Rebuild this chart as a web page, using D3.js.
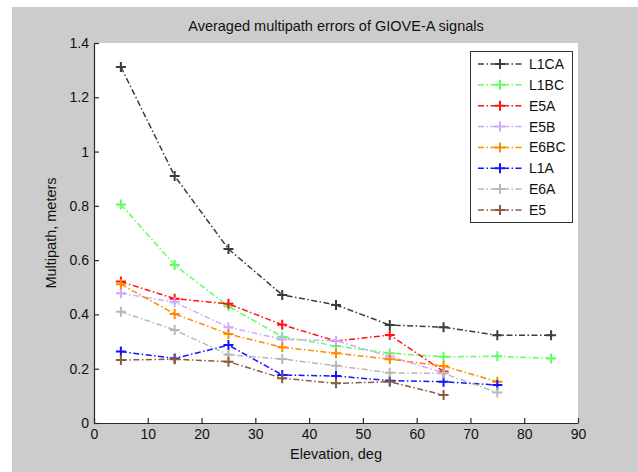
<!DOCTYPE html>
<html><head><meta charset="utf-8">
<script src="https://cdn.jsdelivr.net/npm/d3@7"></script>
<style>body{margin:0;background:#fff;}svg{display:block;font-family:"Liberation Sans",Arial,sans-serif;}</style>
</head><body>
<svg id="c" width="638" height="472"></svg>
<script>
const elevations = [5, 15, 25, 35, 45, 55, 65, 75, 85];
const seriesNames = ["L1CA", "L1BC", "E5A", "E5B", "E6BC", "L1A", "E6A", "E5"];
const seriesColors = ["#3c3c3c", "#5cff5c", "#ff1414", "#cfa8ff", "#ff8a00", "#1414ff", "#b8b8b8", "#8b5a3f"];
const L1CA = [1.312, 0.91, 0.641, 0.472, 0.435, 0.361, 0.353, 0.323, 0.323];
const L1BC = [0.805, 0.582, 0.43, 0.318, 0.284, 0.257, 0.244, 0.246, 0.238];
const E5A  = [0.521, 0.458, 0.439, 0.362, 0.302, 0.324, 0.19];
const E5B  = [0.478, 0.445, 0.353, 0.308, 0.303, 0.245, 0.185];
const E6BC = [0.511, 0.402, 0.328, 0.279, 0.257, 0.235, 0.21, 0.152];
const L1A  = [0.263, 0.238, 0.287, 0.177, 0.173, 0.156, 0.152, 0.14];
const E6A  = [0.41, 0.343, 0.251, 0.236, 0.211, 0.185, 0.183, 0.112];
const E5   = [0.232, 0.235, 0.226, 0.165, 0.146, 0.152, 0.103];
const seriesValues = [L1CA, L1BC, E5A, E5B, E6BC, L1A, E6A, E5];
const xTicks = [0, 10, 20, 30, 40, 50, 60, 70, 80, 90];
const yTicks = [0, 0.2, 0.4, 0.6, 0.8, 1, 1.2, 1.4];
const titleText = "Averaged multipath errors of GIOVE-A signals";
const xLabel = "Elevation, deg";
const yLabel = "Multipath, meters";

const svg = d3.select("#c");
const pL = 94, pR = 578, pT = 43, pB = 423;
svg.append("rect").attr("x", 12).attr("y", 7).attr("width", 626).attr("height", 465).attr("fill", "#cccccc");
svg.append("rect").attr("x", pL).attr("y", pT).attr("width", pR - pL).attr("height", pB - pT).attr("fill", "#fff");

const x = d3.scaleLinear().domain([0, 90]).range([pL, pR]);
const y = d3.scaleLinear().domain([0, 1.4]).range([pB, pT]);

const fmt = d => String(+d.toFixed(1));
const xAxis = svg.append("g").attr("transform", `translate(0,${pB})`)
  .call(d3.axisBottom(x).tickValues(xTicks).tickFormat(fmt).tickSizeInner(-5).tickSizeOuter(0).tickPadding(6));
const yAxis = svg.append("g").attr("transform", `translate(${pL},0)`)
  .call(d3.axisLeft(y).tickValues(yTicks).tickFormat(fmt).tickSizeInner(-5).tickSizeOuter(0).tickPadding(5));
[xAxis, yAxis].forEach(a => {
  a.select(".domain").attr("stroke", "#2a2a2a").attr("stroke-width", 1.2);
  a.selectAll(".tick line").attr("stroke", "#2a2a2a").attr("stroke-width", 1.2);
  a.selectAll("text").attr("fill", "#111").style("font-size", "14px").style("font-family", "Liberation Sans, Arial, sans-serif");
});

const line = d3.line().x((d, i) => x(elevations[i])).y(d => y(d));
const dash = "6,2.5,1.5,2.5";
const plus = (g, cx, cy, color) => {
  g.append("path").attr("d", `M${cx - 5},${cy}H${cx + 5}M${cx},${cy - 5}V${cy + 5}`)
    .attr("stroke", color).attr("stroke-width", 2).attr("fill", "none");
};
const plot = svg.append("g");
seriesValues.forEach((vals, s) => {
  const col = seriesColors[s];
  plot.append("path").datum(vals).attr("d", line).attr("fill", "none")
    .attr("stroke", col).attr("stroke-width", 1.5).attr("stroke-dasharray", dash);
  vals.forEach((v, i) => plus(plot, x(elevations[i]), y(v), col));
});

svg.append("text").attr("x", (pL + pR) / 2).attr("y", 31).attr("text-anchor", "middle")
  .style("font-size", "14.5px").attr("fill", "#111").text(titleText);
svg.append("text").attr("x", (pL + pR) / 2).attr("y", 459).attr("text-anchor", "middle")
  .style("font-size", "14.5px").attr("fill", "#111").text(xLabel);
svg.append("text").attr("transform", `translate(56,${(pT + pB) / 2}) rotate(-90)`).attr("text-anchor", "middle")
  .style("font-size", "14.5px").attr("fill", "#111").text(yLabel);

const lg = svg.append("g");
lg.append("rect").attr("x", 470.5).attr("y", 51.5).attr("width", 102).attr("height", 171)
  .attr("fill", "#fff").attr("stroke", "#333").attr("stroke-width", 1);
seriesNames.forEach((n, i) => {
  const yy = 64 + i * 20.85;
  lg.append("path").attr("d", `M478,${yy}H522`).attr("stroke", seriesColors[i])
    .attr("stroke-width", 1.5).attr("stroke-dasharray", dash);
  plus(lg, 500, yy, seriesColors[i]);
  lg.append("text").attr("x", 529).attr("y", yy + 5).style("font-size", "14px").attr("fill", "#111").text(n);
});
</script>
</body></html>
